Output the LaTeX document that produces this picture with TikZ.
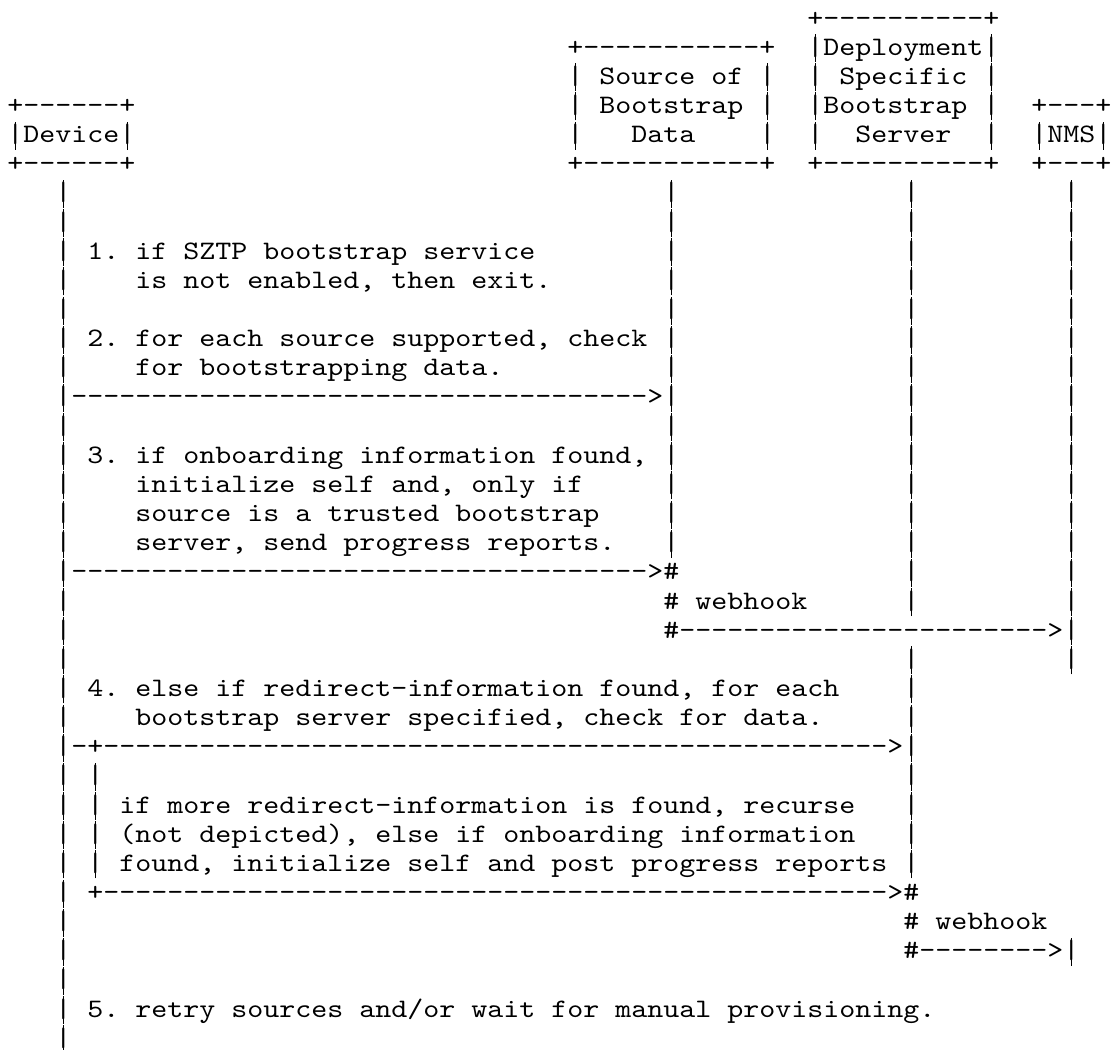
\documentclass[tikz,border=0pt]{standalone}
\font\asciifont="[lmmono10-regular]:extend=1.1429" at 13.333pt
\newcommand\dashrun[1]{\ifnum#1>0 -\expandafter\dashrun\expandafter{\the\numexpr#1-1\relax}\fi}
% the bar glyph, stretched by a rule to the full row height as in the reference
\newcommand\lbar{\makebox[0pt][l]{\makebox[8pt]{\rule[-3.5pt]{0.75pt}{14pt}}}|}
\tikzset{
  ascii/.style={anchor=base west, inner sep=0pt, outer sep=0pt, font=\asciifont},
}
\begin{document}
\frenchspacing
\begin{tikzpicture}[x=8pt, y=-14.575pt]
    \useasboundingbox (0,0) rectangle (69.625,36.02);
    \begin{scope}[shift={(0.456,0.892)}]
    % Boxes of the four parties
    \node[ascii] (dsTop) at (50,0) {+----------+};
    \node[ascii] (srcTop) at (35,1) {+-----------+};
    \node[ascii] (dsA) at (50,1) {\lbar Deployment\lbar};
    \node[ascii] (srcA) at (35,2) {\lbar\ Source of \lbar};
    \node[ascii] (dsB) at (50,2) {\lbar\ Specific \lbar};
    \node[ascii] (devTop) at (0,3) {+------+};
    \node[ascii] (srcB) at (35,3) {\lbar\ Bootstrap \lbar};
    \node[ascii] (dsC) at (50,3) {\lbar Bootstrap \lbar};
    \node[ascii] (nmsTop) at (64,3) {+---+};
    \node[ascii] (devA) at (0,4) {\lbar Device\lbar};
    \node[ascii] (srcC) at (35,4) {\lbar\ \ \ Data\ \ \ \ \lbar};
    \node[ascii] (dsD) at (50,4) {\lbar\ \ Server\ \ \lbar};
    \node[ascii] (nmsA) at (64,4) {\lbar NMS\lbar};
    \node[ascii] (devBot) at (0,5) {+------+};
    \node[ascii] (srcBot) at (35,5) {+-----------+};
    \node[ascii] (dsBot) at (50,5) {+----------+};
    \node[ascii] (nmsBot) at (64,5) {+---+};

    % Lifelines
    \foreach \r in {6,...,12,14,15,16,17,18,20,21,22,23,24,26,27,...,35}
        \node[ascii] (dev\r) at (3,\r) {\lbar};
    \foreach \r in {6,...,12,14,15,16,17,18}
        \node[ascii] (src\r) at (41,\r) {\lbar};
    \foreach \r in {6,...,20,22,23,24,26,27,28,29}
        \node[ascii] (ds\r) at (56,\r) {\lbar};
    \foreach \r in {6,...,20,22,...,31}
        \node[ascii] (nms\r) at (66,\r) {\lbar};
    \foreach \r in {26,...,29}
        \node[ascii] (loop\r) at (5,\r) {\lbar};

    % Steps 1 and 2
    \node[ascii] (stepOneA) at (5,8) {1. if SZTP bootstrap service};
    \node[ascii] (stepOneB) at (8,9) {is not enabled, then exit.};
    \node[ascii] (stepTwoA) at (5,11) {2. for each source supported, check};
    \node[ascii] (stepTwoB) at (8,12) {for bootstrapping data.};
    \node[ascii] (msgA) at (3,13) {\lbar\dashrun{36}>\lbar};

    % Step 3 and the first webhook
    \node[ascii] (stepThreeA) at (5,15) {3. if onboarding information found,};
    \node[ascii] (stepThreeB) at (8,16) {initialize self and, only if};
    \node[ascii] (stepThreeC) at (8,17) {source is a trusted bootstrap};
    \node[ascii] (stepThreeD) at (8,18) {server, send progress reports.};
    \node[ascii] (msgB) at (3,19) {\lbar\dashrun{36}>\#};
    \node[ascii] (hookA) at (41,20) {\# webhook};
    \node[ascii] (msgC) at (41,21) {\#\dashrun{23}>\lbar};

    % Step 4, the redirect loop and the second webhook
    \node[ascii] (stepFourA) at (5,23) {4. else if redirect-information found, for each};
    \node[ascii] (stepFourB) at (8,24) {bootstrap server specified, check for data.};
    \node[ascii] (msgD) at (3,25) {\lbar-+\dashrun{49}>\lbar};
    \node[ascii] (loopA) at (7,27) {if more redirect-information is found, recurse};
    \node[ascii] (loopB) at (7,28) {(not depicted), else if onboarding information};
    \node[ascii] (loopC) at (7,29) {found, initialize self and post progress reports};
    \node[ascii] (msgE) at (5,30) {+\dashrun{49}>\#};
    \node[ascii] (hookB) at (56,31) {\# webhook};
    \node[ascii] (msgF) at (56,32) {\#\dashrun{8}>\lbar};

    % Step 5
    \node[ascii] (stepFive) at (5,34) {5. retry sources and/or wait for manual provisioning.};
    \end{scope}
\end{tikzpicture}
\end{document}
